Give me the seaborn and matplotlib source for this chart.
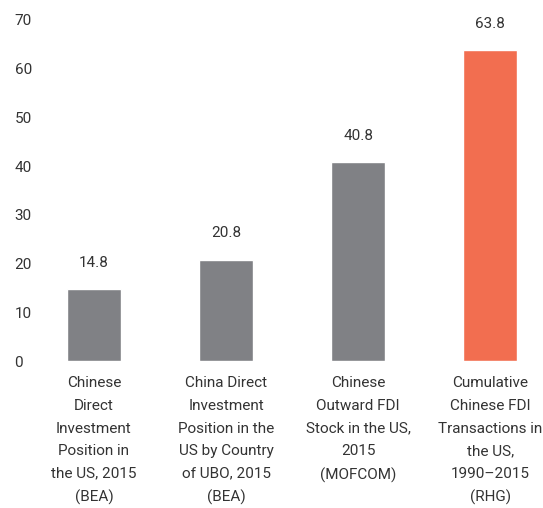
import pandas as pd
import matplotlib.pyplot as plt
import seaborn as sns

# data
labels = [
    "Chinese\nDirect\nInvestment\nPosition in\nthe US, 2015\n(BEA)",
    "China Direct\nInvestment\nPosition in the\nUS by Country\nof UBO, 2015\n(BEA)",
    "Chinese\nOutward FDI\nStock in the US,\n2015\n(MOFCOM)",
    "Cumulative\nChinese FDI\nTransactions in\nthe US,\n1990\u20132015\n(RHG)",
]
values = [14.8, 20.8, 40.8, 63.8]
bar_colors = ["#808185", "#808185", "#808185", "#F26E50"]

df = pd.DataFrame({"label": labels, "value": values})

sns.set_style("white")
plt.rcParams["font.family"] = ["Roboto", "DejaVu Sans"]

fig = plt.figure(figsize=(5.43, 5.08), dpi=100)
ax = fig.add_axes([0.06, 0.289, 0.94, 0.672])

sns.barplot(data=df, x="label", y="value", hue="label", palette=bar_colors,
            width=0.41, legend=False, ax=ax, saturation=1)

for i, v in enumerate(values):
    ax.text(i, v + 4, f"{v:.1f}", ha="center", va="bottom", fontsize=11, color="#333333")

ax.set_ylim(0, 70)
ax.set_xlim(-0.465, 3.40)
ax.set_yticks(range(0, 71, 10))
ax.set_xlabel("")
ax.set_ylabel("")
sns.despine(left=True, bottom=True)
ax.tick_params(axis="y", length=0, pad=13, labelsize=11, labelcolor="#333333")
ax.tick_params(axis="x", length=0, pad=11, labelsize=11, labelcolor="#333333")
for t in ax.get_yticklabels():
    t.set_horizontalalignment("left")
for t in ax.get_xticklabels():
    t.set_linespacing(1.78)

fig.savefig("out.png", dpi=100)
